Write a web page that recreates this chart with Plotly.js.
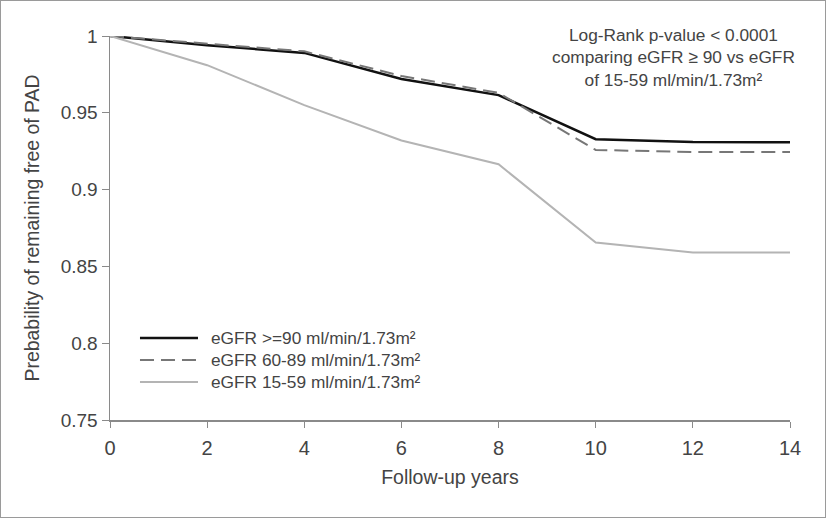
<!DOCTYPE html>
<html><head><meta charset="utf-8">
<script src="https://cdn.plot.ly/plotly-3.0.1.min.js"></script>
<style>html,body{margin:0;padding:0;background:#fff}#frame{width:826px;height:518px;box-sizing:border-box;border:1px solid #9a9a9a;position:relative}#chart{position:absolute;left:-1px;top:-1px;width:826px;height:518px}</style>
</head><body><div id="frame"><div id="chart"></div></div>
<script>
const years = [0, 2, 4, 6, 8, 10, 12, 14];
const egfr90 = [1.0, 0.994, 0.989, 0.972, 0.9615, 0.9328, 0.931, 0.9308];
const egfr6089 = [1.0, 0.995, 0.990, 0.974, 0.963, 0.9258, 0.9245, 0.9245];
const egfr1559 = [1.0, 0.981, 0.955, 0.932, 0.9165, 0.8655, 0.859, 0.859];
const seriesNames = ["eGFR >=90 ml/min/1.73m²", "eGFR 60-89 ml/min/1.73m²", "eGFR 15-59 ml/min/1.73m²"];
const xTicks = [0, 2, 4, 6, 8, 10, 12, 14];
const yTicks = [0.75, 0.8, 0.85, 0.9, 0.95, 1];
const yTickText = ["0.75", "0.8", "0.85", "0.9", "0.95", "1"];
const FONT = "Liberation Sans, Arial, sans-serif";
const lineStyles = [
  {color: "#111111", width: 2.5},
  {color: "#777777", width: 2, dash: "14px,7px"},
  {color: "#b4b4b4", width: 2}
];
const seriesValues = [egfr90, egfr6089, egfr1559];
const traces = seriesValues.map((v, i) => ({x: years, y: v, name: seriesNames[i], mode: "lines", line: lineStyles[i], showlegend: false}));

// custom legend (long sample lines as in the reference)
const legY = [0.2135, 0.156, 0.099];
const shapes = seriesNames.map((n, i) => ({type: "line", xref: "paper", yref: "paper", x0: 0.0441, x1: 0.1294, y0: legY[i], y1: legY[i], line: lineStyles[i]}));
const annotations = seriesNames.map((n, i) => ({xref: "paper", yref: "paper", x: 0.145, y: legY[i], xanchor: "left", yanchor: "middle", showarrow: false, text: n, font: {size: 17.3, color: "#444"}}));
annotations.push({xref: "paper", yref: "paper", x: 0.8287, y: 1.033, xanchor: "center", yanchor: "top", showarrow: false, align: "center",
  text: "Log-Rank p-value < 0.0001<br>comparing eGFR ≥ 90 vs eGFR<br>of 15-59 ml/min/1.73m²", font: {size: 17.3, color: "#444"}});

const layout = {
  width: 826, height: 518,
  margin: {l: 110, r: 36, t: 36, b: 98},
  paper_bgcolor: "rgba(0,0,0,0)", plot_bgcolor: "#fff",
  font: {family: FONT, color: "#444", size: 18},
  showlegend: false,
  xaxis: {range: [0, 14], tickvals: xTicks, showgrid: false, zeroline: false, showline: true, linecolor: "#8a8a8a", linewidth: 1.5, ticks: "outside", ticklen: 6, tickcolor: "#8a8a8a", ticklabelstandoff: 3, tickfont: {size: 20, color: "#444"},
          title: {text: "Follow-up years", font: {size: 19.5, color: "#444"}, standoff: 13}},
  yaxis: {range: [0.75, 1.0], tickvals: yTicks, ticktext: yTickText, showgrid: false, zeroline: false, showline: true, linecolor: "#8a8a8a", linewidth: 1.5, ticks: "outside", ticklen: 7, tickcolor: "#8a8a8a", tickfont: {size: 19, color: "#444"},
          title: {text: "Prebability of remaining free of PAD", font: {size: 19.4, color: "#444"}, standoff: 16}},
  shapes: shapes,
  annotations: annotations
};
Plotly.newPlot("chart", traces, layout, {displayModeBar: false, staticPlot: true});
</script></body></html>
